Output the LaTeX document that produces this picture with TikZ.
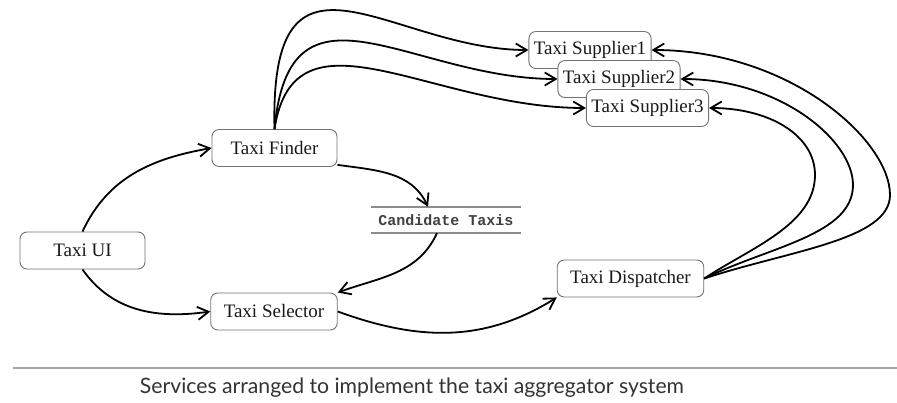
\documentclass[tikz,border=0pt]{standalone}
\usepackage{fontspec}
\setmainfont{Liberation Serif}
\setmonofont{Liberation Mono}
\newfontfamily\capfont{Lato}
\usetikzlibrary{arrows.meta, positioning}
\tikzset{
  svc/.style       = {rectangle, rounded corners=7pt, draw=black!55, fill=white,
                      line width=0.9pt, minimum width=125pt, minimum height=37pt,
                      inner xsep=13pt, align=center, text=black!90,
                      font=\fontsize{19}{22}\selectfont},
  sup/.style       = {svc, minimum width=0pt, inner xsep=5pt},
  store/.style     = {rectangle, minimum width=149pt, minimum height=26pt,
                      inner sep=0pt, text=black!75,
                      font=\ttfamily\bfseries\fontsize{15}{18}\selectfont},
  storeline/.style = {draw=black!45, line width=1.6pt},
  fl/.style        = {-{Straight Barb[length=11pt, width=13pt]}, line width=1.8pt,
                      draw=black},
  capline/.style   = {draw=black!35, line width=2.5pt},
}

\begin{document}
\begin{tikzpicture}[x=1pt, y=1pt]
  \path[use as bounding box, fill=white] (0,0) rectangle (897,-403);

  \node[svc] (ui)     at (82.5,-250.5) {Taxi UI};
  \node[svc] (finder) at (274.5,-148)  {Taxi Finder};
  \node[svc] (sel)    at (274,-311.5)  {Taxi Selector};
  \node[svc] (disp)   at (630.5,-278.5) {Taxi Dispatcher};
  \node[store] (cand) at (446,-220)    {Candidate Taxis};
  \draw[storeline] (cand.north west) -- (cand.north east);
  \draw[storeline] (cand.south west) -- (cand.south east);

  % suppliers overlap, drawn back to front
  \node[sup] (s1) at (590,-50)    {Taxi Supplier1};
  \node[sup] (s2) at (619,-79)    {Taxi Supplier2};
  \node[sup] (s3) at (647.5,-108) {Taxi Supplier3};

  \draw[fl] (ui.north) to[out=65,in=190] (finder.west);
  \draw[fl] (ui.south) to[out=-55,in=188] (sel.west);
  \draw[fl] (finder.-15) to[out=-8,in=115] ([xshift=-18pt]cand.north);
  \draw[fl] ([xshift=-9pt]cand.south) to[out=-115,in=20] (sel.north east);
  \draw[fl] (sel.east) to[out=-20,in=-148] (disp.south west);

  \draw[fl] (finder.north) .. controls +(-5,209) and +(-138,0) .. (s1.west);
  \draw[fl] (finder.north) .. controls +(15,164) and +(-147,0) .. (s2.west);
  \draw[fl] (finder.north) .. controls +(20,129) and +(-156,0) .. (s3.west);

  \draw[fl] (disp.east) .. controls +(85,28) and +(0,-45) .. (890,-195)
                        .. controls +(0,55) and +(138,0) .. (s1.east);
  \draw[fl] (disp.east) .. controls +(65,32) and +(0,-50) .. (853,-185)
                        .. controls +(0,45) and +(99,0) .. (s2.east);
  \draw[fl] (disp.east) .. controls +(45,30) and +(0,-50) .. (815,-175)
                        .. controls +(0,40) and +(60,0) .. (s3.east);

  % caption
  \draw[capline] (13,-368) -- (897,-368);
  \node[font=\capfont\fontsize{21.2}{24}\selectfont, text=black!80] (cap) at (412,-388)
    {Services arranged to implement the taxi aggregator system};
\end{tikzpicture}
\end{document}
